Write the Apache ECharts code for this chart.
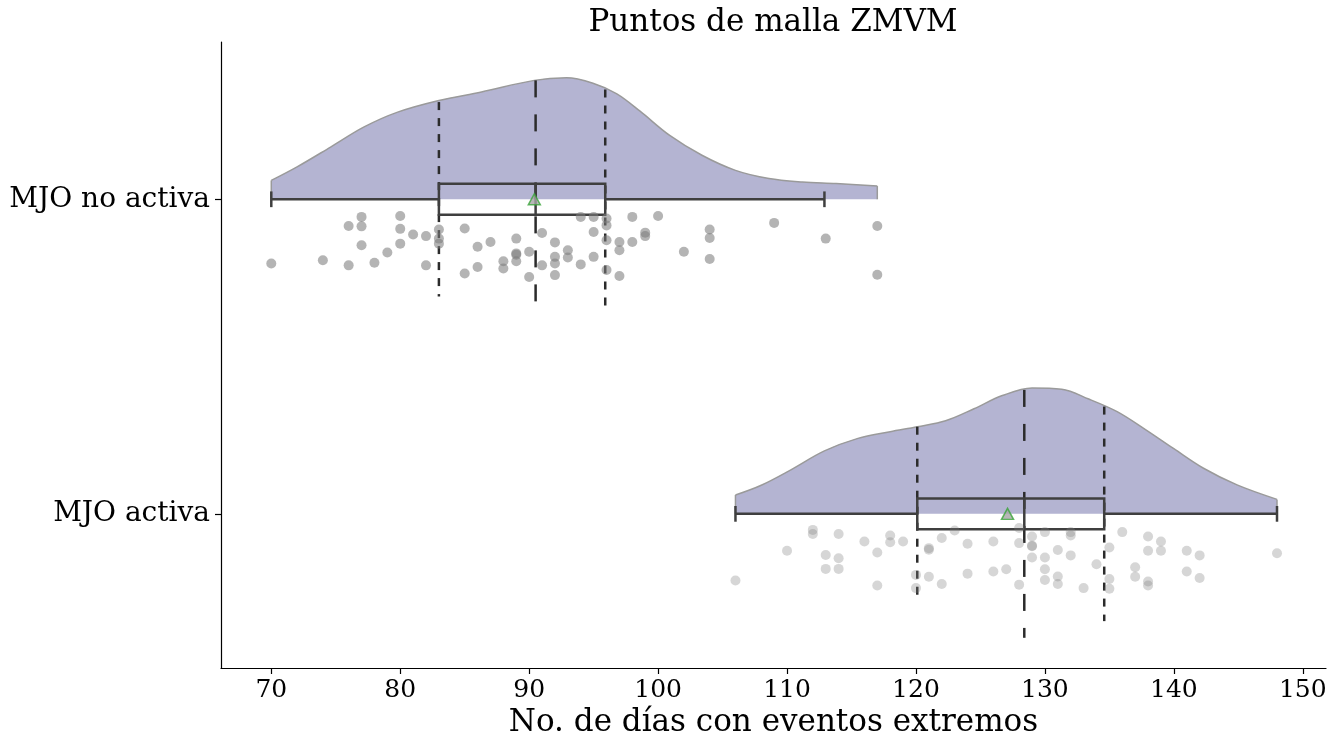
<!DOCTYPE html>
<html>
<head>
<meta charset="utf-8">
<script src="https://cdn.jsdelivr.net/npm/echarts@6/dist/echarts.min.js"></script>
<style>
html,body{margin:0;padding:0;background:#fff;}
#chart{width:1341px;height:740px;}
</style>
</head>
<body>
<div id="chart"></div>
<script>
// ---------------- DATA ----------------
const categories = ['MJO no activa', 'MJO activa'];
const xTicks = [70, 80, 90, 100, 110, 120, 130, 140, 150];
const titleText = 'Puntos de malla ZMVM';
const xAxisName = 'No. de días con eventos extremos';

// KDE outline: x value and half-violin height (in category units)
const violinTopX = [70.0, 72.0, 74.6, 77.2, 79.8, 83.0, 86.3, 90.4, 92.9, 95.0, 96.8, 98.6, 100.9, 103.4, 106.0, 108.6, 111.2, 113.8, 117.0];
const violinTopH = [0.060, 0.103, 0.166, 0.230, 0.277, 0.314, 0.341, 0.378, 0.386, 0.368, 0.335, 0.280, 0.203, 0.140, 0.092, 0.066, 0.055, 0.050, 0.042];
const violinBotX = [106.0, 108.0, 110.3, 112.9, 115.5, 118.0, 120.1, 122.3, 124.5, 126.7, 129.0, 131.3, 133.4, 135.6, 137.8, 140.0, 142.3, 144.9, 148.0];
const violinBotH = [0.060, 0.091, 0.140, 0.200, 0.240, 0.261, 0.277, 0.296, 0.334, 0.376, 0.400, 0.396, 0.365, 0.325, 0.268, 0.207, 0.145, 0.092, 0.046];

// Box stats: [whisker low, Q1, median, Q3, whisker high]
const boxTop = [70, 83, 90.5, 95.9, 112.9];
const boxBot = [106, 120.1, 128.4, 134.6, 148];
const meanVals = [90.4, 127.1];

// Quartile-line half heights (category units): [Q1, median, Q3]
const quartHTop = [0.309, 0.378, 0.349];
const quartHBot = [0.277, 0.394, 0.341];

// Rain (points): values and vertical jitter (category units below the category line)
const rainTopX = [70,74,76,76,77,77,77,78,79,80,80,80,81,82,82,83,83,83,85,85,86,86,87,88,88,89,89,89,89,90,90,91,91,92,92,92,92,93,93,94,94,95,95,95,96,96,96,96,97,97,97,98,98,99,99,100,102,104,104,104,109,113,117,117];
const rainTopJ = [0.204,0.194,0.085,0.210,0.056,0.086,0.146,0.202,0.169,0.053,0.094,0.141,0.112,0.117,0.210,0.096,0.125,0.141,0.093,0.236,0.151,0.215,0.136,0.197,0.220,0.125,0.172,0.176,0.197,0.167,0.247,0.107,0.210,0.137,0.183,0.204,0.241,0.162,0.185,0.056,0.207,0.056,0.104,0.183,0.061,0.083,0.130,0.225,0.136,0.162,0.244,0.056,0.136,0.106,0.117,0.053,0.167,0.096,0.123,0.190,0.075,0.125,0.085,0.240];
const rainBotX = [106,110,112,112,113,113,114,114,114,116,117,117,118,118,119,120,120,121,121,121,122,122,123,124,124,126,126,127,128,128,128,129,129,129,129,130,130,130,130,131,131,131,132,132,132,133,134,135,135,135,136,137,137,138,138,138,138,139,139,141,141,142,142,148];
const rainBotJ = [0.212,0.117,0.051,0.064,0.131,0.175,0.064,0.141,0.175,0.088,0.123,0.228,0.069,0.090,0.088,0.194,0.236,0.109,0.114,0.200,0.077,0.223,0.053,0.095,0.190,0.088,0.183,0.176,0.045,0.093,0.225,0.072,0.101,0.103,0.139,0.058,0.139,0.176,0.210,0.115,0.199,0.223,0.058,0.069,0.132,0.236,0.160,0.107,0.207,0.238,0.058,0.170,0.200,0.072,0.117,0.215,0.228,0.088,0.117,0.117,0.183,0.132,0.204,0.125];

// ---------------- BUILD ----------------
const FONT = "'DejaVu Serif', serif";

function violinData(xs, hs, cat) {
  return xs.map((x, i) => [x, cat - hs[i]]);
}
function rainData(xs, js, cat) {
  return xs.map((x, i) => [x, cat + js[i]]);
}

const boxData = [[0].concat(boxTop), [1].concat(boxBot)];
const quartData = [];
[[boxTop, quartHTop, 0], [boxBot, quartHBot, 1]].forEach(([b, h, cat]) => {
  quartData.push([b[1], cat, h[0], 0]);
  quartData.push([b[2], cat, h[1], 1]);
  quartData.push([b[3], cat, h[2], 0]);
});
// violin end edges
const edgeData = [
  [violinTopX[0], 0, violinTopH[0]], [violinTopX[violinTopX.length - 1], 0, violinTopH[violinTopH.length - 1]],
  [violinBotX[0], 1, violinBotH[0]], [violinBotX[violinBotX.length - 1], 1, violinBotH[violinBotH.length - 1]]
];

const BOX_H = 0.049, CAP_H = 0.025;
const DARK = '#3f3f3f';

function renderBox(params, api) {
  const cat = api.value(0);
  const lo = api.value(1), q1 = api.value(2), med = api.value(3), q3 = api.value(4), hi = api.value(5);
  const c = (x, y) => api.coord([x, y]);
  const st = { stroke: DARK, lineWidth: 2.5, fill: null };
  const line = (a, b) => ({ type: 'line', shape: { x1: a[0], y1: a[1], x2: b[0], y2: b[1] }, style: st });
  return {
    type: 'group',
    children: [
      line(c(lo, cat), c(q1, cat)),
      line(c(q3, cat), c(hi, cat)),
      line(c(lo, cat - CAP_H), c(lo, cat + CAP_H)),
      line(c(hi, cat - CAP_H), c(hi, cat + CAP_H)),
      { type: 'polygon', shape: { points: [c(q1, cat - BOX_H), c(q3, cat - BOX_H), c(q3, cat + BOX_H), c(q1, cat + BOX_H)] }, style: st },
      line(c(med, cat - BOX_H), c(med, cat + BOX_H))
    ]
  };
}

function renderQuart(params, api) {
  const x = api.value(0), cat = api.value(1), h = api.value(2), kind = api.value(3);
  const a = api.coord([x, cat - h]), b = api.coord([x, cat + h]);
  return {
    type: 'line',
    shape: { x1: a[0], y1: a[1], x2: b[0], y2: b[1] },
    style: { stroke: '#2b2b2b', lineWidth: 2.5, lineDash: kind === 1 ? [17, 17] : [8, 8] }
  };
}

function renderEdge(params, api) {
  const x = api.value(0), cat = api.value(1), h = api.value(2);
  const a = api.coord([x, cat - h]), b = api.coord([x, cat]);
  return {
    type: 'line',
    shape: { x1: a[0], y1: a[1], x2: b[0], y2: b[1] },
    style: { stroke: '#9a9a9a', lineWidth: 1.5 }
  };
}

const chart = echarts.init(document.getElementById('chart'), null, { renderer: 'canvas' });

const option = {
  animation: false,
  backgroundColor: '#ffffff',
  grid: { left: 221, right: 15, top: 42, bottom: 72, containLabel: false, outerBoundsMode: 'none' },
  graphic: [{
    type: 'text', x: 773, y: 23,
    style: { text: titleText, font: "31px " + FONT, fill: '#000', textAlign: 'center', textVerticalAlign: 'middle' }
  }],
  xAxis: {
    type: 'value', min: 66.1, max: 151.8,
    name: xAxisName, nameLocation: 'middle', nameGap: 39,
    nameTextStyle: { fontFamily: 'DejaVu Serif', fontSize: 31, color: '#000', verticalAlign: 'top' },
    axisLine: { show: true, onZero: false, lineStyle: { color: '#000', width: 1.2 } },
    axisTick: { show: true, length: 6, customValues: xTicks, lineStyle: { color: '#000', width: 1.2 } },
    axisLabel: { customValues: xTicks, fontFamily: 'DejaVu Serif', fontSize: 25, color: '#000', margin: 10 },
    splitLine: { show: false }
  },
  yAxis: {
    type: 'value', inverse: true, min: -0.5, max: 1.49,
    axisLine: { show: true, onZero: false, lineStyle: { color: '#000', width: 1.2 } },
    axisTick: { show: true, length: 6, customValues: [0, 1], lineStyle: { color: '#000', width: 1.2 } },
    axisLabel: { customValues: [0, 1], formatter: v => categories[Math.round(v)], fontFamily: 'DejaVu Serif', fontSize: 28, color: '#000', margin: 11 },
    splitLine: { show: false }
  },
  series: [
    {
      type: 'line', name: 'violin0', data: violinData(violinTopX, violinTopH, 0), z: 1,
      symbol: 'none', smooth: 0.35, silent: true,
      lineStyle: { color: '#9a9a9a', width: 1.5 },
      areaStyle: { color: '#b4b4d2', opacity: 1, origin: 0 }
    },
    {
      type: 'line', name: 'violin1', data: violinData(violinBotX, violinBotH, 1), z: 1,
      symbol: 'none', smooth: 0.35, silent: true,
      lineStyle: { color: '#9a9a9a', width: 1.5 },
      areaStyle: { color: '#b4b4d2', opacity: 1, origin: 1 }
    },
    { type: 'custom', name: 'edges', data: edgeData, renderItem: renderEdge, z: 1, silent: true },
    { type: 'custom', name: 'quart', data: quartData, renderItem: renderQuart, z: 2, silent: true },
    { type: 'custom', name: 'box', data: boxData, renderItem: renderBox, z: 3, silent: true },
    {
      type: 'scatter', name: 'rain0', data: rainData(rainTopX, rainTopJ, 0), z: 4,
      symbol: 'circle', symbolSize: 10, silent: true,
      itemStyle: { color: 'rgba(125,125,125,0.72)' }
    },
    {
      type: 'scatter', name: 'rain1', data: rainData(rainBotX, rainBotJ, 1), z: 4,
      symbol: 'circle', symbolSize: 10, silent: true,
      itemStyle: { color: 'rgba(128,128,128,0.4)' }
    },
    {
      type: 'scatter', name: 'mean', data: meanVals.map((m, i) => [m, i]), z: 5,
      symbol: 'triangle', symbolSize: [12, 11], silent: true,
      itemStyle: { color: '#a5a5a5', borderColor: '#3aa53a', borderWidth: 1.5 }
    }
  ]
};
chart.setOption(option);
</script>
</body>
</html>
